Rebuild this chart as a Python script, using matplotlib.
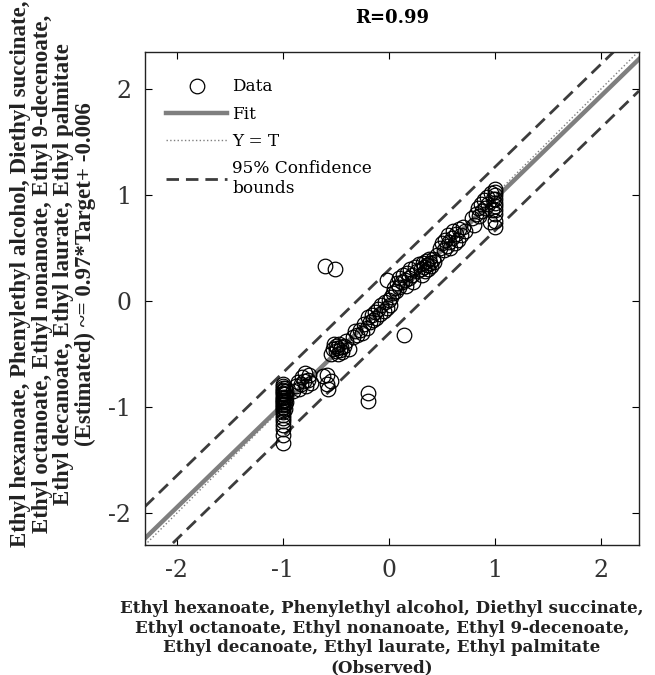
import matplotlib
matplotlib.use("Agg")
import matplotlib.pyplot as plt
import numpy as np

plt.rcParams['axes.unicode_minus'] = False

# ---------------- data ----------------
observed = [
    # stack at -1
    -1.0, -1.0, -1.0, -1.0, -1.0, -1.0, -1.0, -1.0, -1.0, -1.0, -1.0, -1.0, -1.0,
    -1.0, -1.0, -1.0, -1.0, -1.0, -1.0, -1.0, -1.0, -1.0, -1.0, -1.0, -1.0,
    -0.98, -0.98, -0.98, -0.98, -0.98, -0.97, -0.97, -0.97,
    # sub cluster
    -0.90, -0.88, -0.86, -0.85, -0.83, -0.82, -0.80, -0.79, -0.78, -0.76, -0.75, -0.73,
    -0.62, -0.58, -0.55, -0.58, -0.57,
    # cluster near -0.5
    -0.55, -0.53, -0.52, -0.50, -0.50, -0.49, -0.48, -0.47, -0.46, -0.45, -0.44, -0.42, -0.40, -0.38,
    # chain
    -0.34, -0.32, -0.30, -0.27, -0.25, -0.23, -0.21, -0.20, -0.18, -0.16, -0.15, -0.13,
    -0.12, -0.10, -0.08, -0.07, -0.05, -0.04, -0.02, 0.00, 0.01, 0.02, 0.04,
    # near 0.1
    0.05, 0.07, 0.08, 0.10, 0.10, 0.12, 0.13, 0.15, 0.16, 0.17, 0.19, 0.20, 0.22, 0.23,
    # dense 0.25-0.45
    0.25, 0.27, 0.28, 0.30, 0.31, 0.32, 0.33, 0.34, 0.35, 0.36, 0.37, 0.38, 0.39, 0.40,
    0.42, 0.43, 0.45,
    # 0.48-0.72
    0.48, 0.50, 0.52, 0.53, 0.55, 0.56, 0.57, 0.58, 0.60, 0.61, 0.62, 0.63, 0.65, 0.66,
    0.68, 0.70, 0.72,
    # 0.78-1
    0.78, 0.80, 0.82, 0.84, 0.85, 0.87, 0.88, 0.90, 0.91, 0.93, 0.94, 0.95, 0.96, 0.97,
    0.98, 1.0, 1.0, 1.0, 1.0, 1.0, 1.0, 1.0, 1.0, 1.0, 1.0,
    # outliers
    -0.60, -0.51, -0.02, 0.14, -0.20, -0.20,
]

estimated = [
    -0.78, -0.80, -0.82, -0.84, -0.85, -0.87, -0.88, -0.90, -0.91, -0.93, -0.94, -0.95, -0.97,
    -0.98, -1.00, -1.01, -1.03, -1.05, -1.07, -1.10, -1.13, -1.17, -1.21, -1.26, -1.34,
    -0.82, -0.88, -0.93, -0.97, -1.02, -0.85, -0.90, -0.95,
    -0.85, -0.80, -0.76, -0.83, -0.78, -0.72, -0.75, -0.68, -0.80, -0.74, -0.70, -0.77,
    -0.71, -0.70, -0.75, -0.78, -0.83,
    -0.50, -0.45, -0.40, -0.47, -0.42, -0.44, -0.50, -0.40, -0.46, -0.43, -0.48, -0.42, -0.38, -0.45,
    -0.34, -0.28, -0.32, -0.27, -0.30, -0.22, -0.25, -0.15, -0.20, -0.13, -0.18, -0.10,
    -0.16, -0.07, -0.12, -0.04, -0.09, -0.01, -0.06, 0.01, -0.04, 0.04, 0.08,
    0.12, 0.10, 0.17, 0.13, 0.22, 0.18, 0.25, 0.20, 0.14, 0.27, 0.22, 0.30, 0.25, 0.18,
    0.32, 0.28, 0.35, 0.30, 0.25, 0.36, 0.32, 0.28, 0.38, 0.34, 0.30, 0.40, 0.36, 0.33,
    0.40, 0.37, 0.44,
    0.50, 0.55, 0.48, 0.58, 0.52, 0.62, 0.56, 0.50, 0.60, 0.66, 0.55, 0.63, 0.58, 0.68,
    0.62, 0.70, 0.66,
    0.78, 0.72, 0.82, 0.88, 0.80, 0.92, 0.85, 0.95, 0.88, 0.98, 0.92, 0.75, 1.02, 0.86,
    0.96, 0.70, 0.76, 0.82, 0.86, 0.90, 0.93, 0.96, 1.00, 1.03, 1.06,
    0.33, 0.30, 0.20, -0.32, -0.87, -0.94,
]

fit_slope = 0.97
fit_intercept = -0.006
conf_offset = 0.30
x_ticks = [-2, -1, 0, 1, 2]
y_ticks = [-2, -1, 0, 1, 2]
title_text = "R=0.99"
xlabel_text = ("Ethyl hexanoate, Phenylethyl alcohol, Diethyl succinate,\n"
               "Ethyl octanoate, Ethyl nonanoate, Ethyl 9-decenoate,\n"
               "Ethyl decanoate, Ethyl laurate, Ethyl palmitate\n"
               "(Observed)")
ylabel_text = ("Ethyl hexanoate, Phenylethyl alcohol, Diethyl succinate,\n"
               "Ethyl octanoate, Ethyl nonanoate, Ethyl 9-decenoate,\n"
               "Ethyl decanoate, Ethyl laurate, Ethyl palmitate\n"
               "(Estimated) ~= 0.97*Target+ -0.006")

# ---------------- figure ----------------
W, H = 655, 675
fig = plt.figure(figsize=(W / 100, H / 100), dpi=100)
ax = fig.add_axes([145 / W, 130 / H, 494 / W, 493 / H])

xlim = (-2.30, 2.36)
ylim = (-2.30, 2.35)
ax.set_xlim(*xlim)
ax.set_ylim(*ylim)

xx = np.array(xlim)
fit_y = fit_slope * xx + fit_intercept

ax.plot(observed, estimated, 'o', mfc='none', mec='black', mew=0.9, ms=10.5,
        label='Data', zorder=3)
ax.plot(xx, fit_y, '-', color='#7f7f7f', lw=3.2, label='Fit', zorder=2)
ax.plot(xx, xx, ':', color='#7f7f7f', lw=1.0, label='Y = T', zorder=2)
ax.plot(xx, fit_y + conf_offset, '--', color='#3c3c3c', lw=2.0,
        dashes=(4.5, 2.5), label='95% Confidence\nbounds', zorder=2)
ax.plot(xx, fit_y - conf_offset, '--', color='#3c3c3c', lw=2.0,
        dashes=(4.5, 2.5), zorder=2)

ax.set_xticks(x_ticks)
ax.set_yticks(y_ticks)
ax.tick_params(direction='in', length=5, width=0.8, top=True, right=True,
               labelsize=17, labelcolor='#333333', pad=10)
for lab in ax.get_xticklabels() + ax.get_yticklabels():
    lab.set_family('DejaVu Serif')
for sp in ax.spines.values():
    sp.set_linewidth(1.0)
    sp.set_color('#222222')

leg = ax.legend(loc='upper left', bbox_to_anchor=(0.022, 0.967), frameon=False,
                prop={'family': 'DejaVu Serif', 'size': 12.2},
                handlelength=3.6, handletextpad=0.3, labelspacing=0.6,
                borderaxespad=0.2)

fig.text(392 / W, 1 - 18 / H, title_text, ha='center', va='center',
         fontsize=13, fontweight='bold', family='DejaVu Serif')
fig.text(382 / W, 1 - 638 / H, xlabel_text, ha='center', va='center',
         fontsize=12, fontweight='bold', family='DejaVu Serif',
         multialignment='center', linespacing=1.22, color='#222222')
fig.text(53 / W, 1 - 274 / H, ylabel_text, ha='center', va='center',
         rotation=90, fontsize=16.5, fontweight='bold', family='Liberation Serif',
         multialignment='center', linespacing=1.02, color='#222222')

fig.savefig('out.png', dpi=100)
